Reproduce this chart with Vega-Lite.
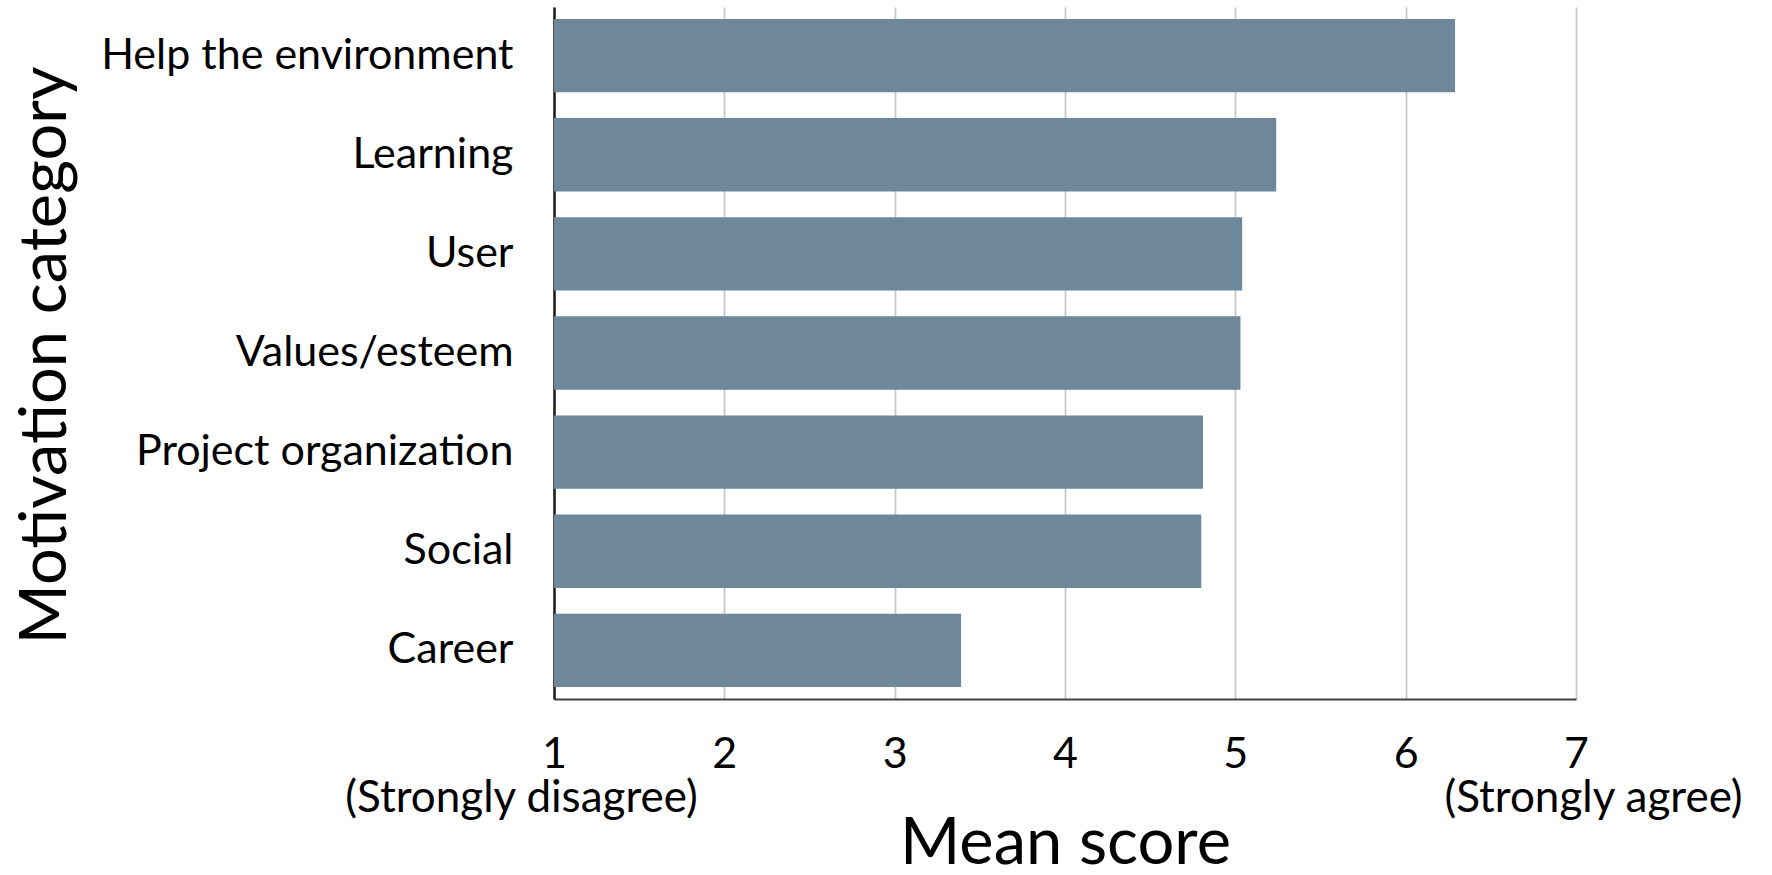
{
  "$schema": "https://vega.github.io/schema/vega-lite/v6.json",
  "width": 1022,
  "height": 692,
  "autosize": {"type": "none"},
  "padding": {"left": 554, "top": 7, "right": 196, "bottom": 176},
  "background": "white",
  "config": {
    "font": "Lato",
    "view": {"stroke": null},
    "axis": {"labelColor": "#000", "titleColor": "#000", "titleFontWeight": "normal", "labelLimit": 0}
  },
  "data": {
    "values": [
      {"category": "Help the environment", "score": 6.29},
      {"category": "Learning", "score": 5.24},
      {"category": "User", "score": 5.04},
      {"category": "Values/esteem", "score": 5.03},
      {"category": "Project organization", "score": 4.81},
      {"category": "Social", "score": 4.80},
      {"category": "Career", "score": 3.39}
    ]
  },
  "layer": [
    {
      "mark": {"type": "bar", "color": "#6e879a"},
      "encoding": {
        "y": {
          "field": "category",
          "type": "nominal",
          "sort": null,
          "scale": {"paddingInner": 0.26, "paddingOuter": 0.12},
          "axis": {
            "title": "Motivation category",
            "titleFontSize": 65,
            "titleX": -489,
            "titleY": 348,
            "titleAngle": -90,
            "titleAlign": "center",
            "titleBaseline": "alphabetic",
            "labelFontSize": 43,
            "labelPadding": 41,
            "ticks": false,
            "domainColor": "#1a1a1a",
            "domainWidth": 2.5,
            "grid": false
          }
        },
        "x": {
          "field": "score",
          "type": "quantitative",
          "scale": {"domain": [1, 7], "zero": false, "nice": false},
          "axis": {
            "orient": "bottom",
            "values": [1, 2, 3, 4, 5, 6, 7],
            "title": "Mean score",
            "titleFontSize": 65,
            "titlePadding": 36,
            "labelFontSize": 43,
            "labelPadding": 34,
            "labelFlush": false,
            "ticks": false,
            "grid": true,
            "gridColor": "#c8c8c8",
            "gridWidth": 1.8,
            "domainColor": "#404040",
            "domainWidth": 2.2
          }
        },
        "x2": {"datum": 1}
      }
    },
    {
      "mark": {"type": "point", "opacity": 0},
      "encoding": {
        "x": {
          "field": "score",
          "type": "quantitative",
          "axis": {
            "orient": "bottom",
            "values": [1, 7],
            "labelExpr": "datum.value == 1 ? '(Strongly disagree)' : '(Strongly agree)'",
            "title": null,
            "labelFontSize": 44,
            "labelPadding": 77,
            "labelFlush": false,
            "labelOverlap": false,
            "labelOffset": {"condition": {"test": "datum.value == 1", "value": -33}, "value": 17},
            "ticks": false,
            "grid": false,
            "domain": false
          }
        }
      }
    }
  ],
  "resolve": {"axis": {"x": "independent"}}
}
